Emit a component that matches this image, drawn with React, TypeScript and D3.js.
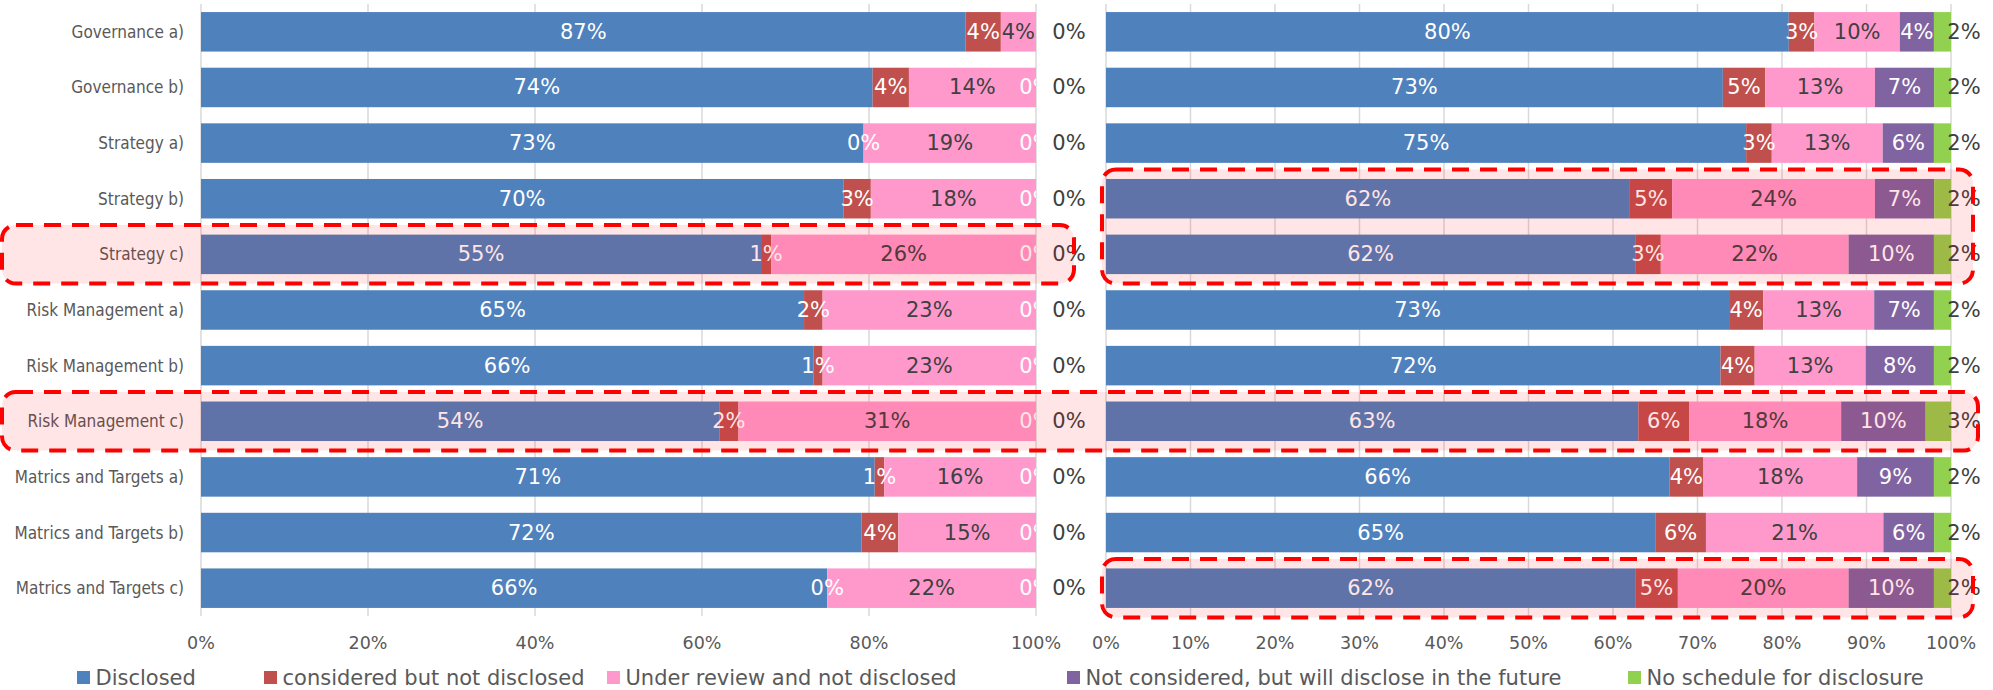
import React from 'react';
import * as d3 from 'd3';

// ---- data -------------------------------------------------------------
const categories = [
  'Governance a)',
  'Governance b)',
  'Strategy a)',
  'Strategy b)',
  'Strategy c)',
  'Risk Management a)',
  'Risk Management b)',
  'Risk Management c)',
  'Matrics and Targets a)',
  'Matrics and Targets b)',
  'Matrics and Targets c)',
];

const seriesNames = [
  'Disclosed',
  'considered but not disclosed',
  'Under review and not disclosed',
  'Not considered, but will disclose in the future',
  'No schedule for disclosure',
];

// left panel (%)
const leftDisclosed = [87, 74, 73, 70, 55, 65, 66, 54, 71, 72, 66];
const leftConsidered = [4, 4, 0, 3, 1, 2, 1, 2, 1, 4, 0];
const leftUnderReview = [4, 14, 19, 18, 26, 23, 23, 31, 16, 15, 22];
const leftNotConsidered = [0, 0, 0, 0, 0, 0, 0, 0, 0, 0, 0];
const leftNoSchedule = [0, 0, 0, 0, 0, 0, 0, 0, 0, 0, 0];

// right panel (%)
const rightDisclosed = [80, 73, 75, 62, 62, 73, 72, 63, 66, 65, 62];
const rightConsidered = [3, 5, 3, 5, 3, 4, 4, 6, 4, 6, 5];
const rightUnderReview = [10, 13, 13, 24, 22, 13, 13, 18, 18, 21, 20];
const rightNotConsidered = [4, 7, 6, 7, 10, 7, 8, 10, 9, 6, 10];
const rightNoSchedule = [2, 2, 2, 2, 2, 2, 2, 3, 2, 2, 2];

const leftTicks = [0, 0.2, 0.4, 0.6, 0.8, 1];
const rightTicks = [0, 0.1, 0.2, 0.3, 0.4, 0.5, 0.6, 0.7, 0.8, 0.9, 1];

// highlighted row groups: [panel span, first row, last row]
const highlightGroups: [string, string, string][] = [
  ['left', 'Strategy c)', 'Strategy c)'],
  ['both', 'Risk Management c)', 'Risk Management c)'],
  ['right', 'Strategy b)', 'Strategy c)'],
  ['right', 'Matrics and Targets c)', 'Matrics and Targets c)'],
];

// ---- styling ----------------------------------------------------------
const seriesColors = ['#4F81BD', '#C0504D', '#FF99CC', '#8064A2', '#92D050'];
const labelColors = ['#FFFFFF', '#FFFFFF', '#404040', '#FFFFFF', '#404040'];
const textGray = '#595959';
const gridGray = '#D9D9D9';
const FONT = "'DejaVu Sans', Verdana, sans-serif";
const FONT_COND = "'DejaVu Sans Condensed', 'DejaVu Sans', sans-serif";

const W = 1993;
const H = 690;

const y = d3
  .scaleBand<string>()
  .domain(categories)
  .range([4, 616])
  .paddingInner(0.29)
  .paddingOuter(0.145);

const keys = ['s0', 's1', 's2', 's3', 's4'];

function buildRows(cols: number[][]) {
  return categories.map((c, i) => {
    const row: any = { category: c };
    cols.forEach((col, k) => {
      row[keys[k]] = col[i];
    });
    return row;
  });
}

const stack = d3.stack<any>().keys(keys).offset(d3.stackOffsetExpand);

type PanelProps = {
  id: string;
  x0: number;
  x1: number;
  ticks: number[];
  cols: number[][];
  lastLabelOffset: number;
};

function Panel({ id, x0, x1, ticks, cols, lastLabelOffset }: PanelProps) {
  const x = d3.scaleLinear().domain([0, 1]).range([x0, x1]);
  const layers = stack(buildRows(cols));
  const bw = y.bandwidth();
  const fmt = d3.format('.0%');

  // a zero-width segment's label is dropped when the neighbouring
  // segment is too narrow to keep the two labels apart
  const hidden = (k: number, i: number) => {
    if (k === 0 || k === layers.length - 1 || cols[k][i] !== 0) return false;
    const prev = layers[k - 1][i];
    return x(prev[1]) - x(prev[0]) < 40 && cols[k - 1][i] !== 0;
  };

  return (
    <g>
      <defs>
        <clipPath id={`clip-${id}`}>
          <rect x={x0} y={0} width={x1 - x0} height={H} />
        </clipPath>
      </defs>
      {/* gridlines */}
      {ticks.map((t) => (
        <line
          key={t}
          x1={x(t)}
          x2={x(t)}
          y1={y.range()[0]}
          y2={y.range()[1]}
          stroke={gridGray}
          strokeWidth={1.5}
        />
      ))}
      {/* bars */}
      {layers.map((layer, k) => (
        <g key={layer.key} fill={seriesColors[k]}>
          {layer.map((d, i) => (
            <rect
              key={i}
              x={x(d[0])}
              y={y(categories[i])}
              width={Math.max(0, x(d[1]) - x(d[0]))}
              height={bw}
            />
          ))}
        </g>
      ))}
      {/* value labels */}
      {layers.map((layer, k) => {
        const last = k === layers.length - 1;
        return (
          <g
            key={`lab-${layer.key}`}
            clipPath={last ? undefined : `url(#clip-${id})`}
            fill={labelColors[k]}
            fontFamily={FONT}
            fontSize={21}
            textAnchor="middle"
          >
            {layer.map((d, i) => {
              if (hidden(k, i)) return null;
              const cx = last ? x(1) + lastLabelOffset : (x(d[0]) + x(d[1])) / 2;
              return (
                <text
                  key={i}
                  x={cx}
                  y={(y(categories[i]) as number) + bw / 2}
                  dominantBaseline="central"
                >
                  {fmt(cols[k][i] / 100)}
                </text>
              );
            })}
          </g>
        );
      })}
      {/* tick labels */}
      {ticks.map((t) => (
        <text
          key={`t${t}`}
          x={x(t)}
          y={643}
          textAnchor="middle"
          dominantBaseline="central"
          fontFamily={FONT}
          fontSize={17.5}
          fill={textGray}
        >
          {fmt(t)}
        </text>
      ))}
    </g>
  );
}

export default function App() {
  const leftX: [number, number] = [201, 1036];
  const rightX: [number, number] = [1106, 1951];
  const bw = y.bandwidth();

  const legendX = [77, 264, 607, 1067, 1628];

  const spans: Record<string, [number, number]> = {
    left: [2, leftX[1] + 38],
    both: [2, rightX[1] + 27],
    right: [rightX[0] - 4, rightX[1] + 22],
  };

  return (
    <svg
      width={W}
      height={H}
      style={{ position: 'absolute', left: 0, top: 0, display: 'block', background: '#fff' }}
    >
      {/* category labels */}
      <g fontFamily={FONT_COND} fontSize={17} fill={textGray} textAnchor="end" style={{ fontStretch: 'condensed' }}>
        {categories.map((c) => (
          <text key={c} x={184} y={(y(c) as number) + bw / 2} dominantBaseline="central">
            {c}
          </text>
        ))}
      </g>

      <Panel
        id="left"
        x0={leftX[0]}
        x1={leftX[1]}
        ticks={leftTicks}
        cols={[leftDisclosed, leftConsidered, leftUnderReview, leftNotConsidered, leftNoSchedule]}
        lastLabelOffset={33}
      />
      <Panel
        id="right"
        x0={rightX[0]}
        x1={rightX[1]}
        ticks={rightTicks}
        cols={[rightDisclosed, rightConsidered, rightUnderReview, rightNotConsidered, rightNoSchedule]}
        lastLabelOffset={13}
      />

      {/* highlighted rows */}
      {highlightGroups.map(([span, from, to], i) => {
        const [sx0, sx1] = spans[span];
        const top = (y(from) as number) - 9.5;
        const bottom = (y(to) as number) + bw + 9.5;
        return (
          <rect
            key={i}
            x={sx0}
            y={top}
            width={sx1 - sx0}
            height={bottom - top}
            rx={14}
            ry={14}
            fill="rgba(255,0,0,0.1)"
            stroke="#FF0000"
            strokeWidth={4}
            strokeDasharray="17 11"
          />
        );
      })}

      {/* legend */}
      <g fontFamily={FONT} fontSize={21} fill={textGray}>
        {seriesNames.map((name, k) => (
          <g key={name} transform={`translate(${legendX[k]},0)`}>
            <rect x={0} y={671} width={13} height={13} fill={seriesColors[k]} />
            <text x={18.5} y={677.5} dominantBaseline="central">
              {name}
            </text>
          </g>
        ))}
      </g>
    </svg>
  );
}
